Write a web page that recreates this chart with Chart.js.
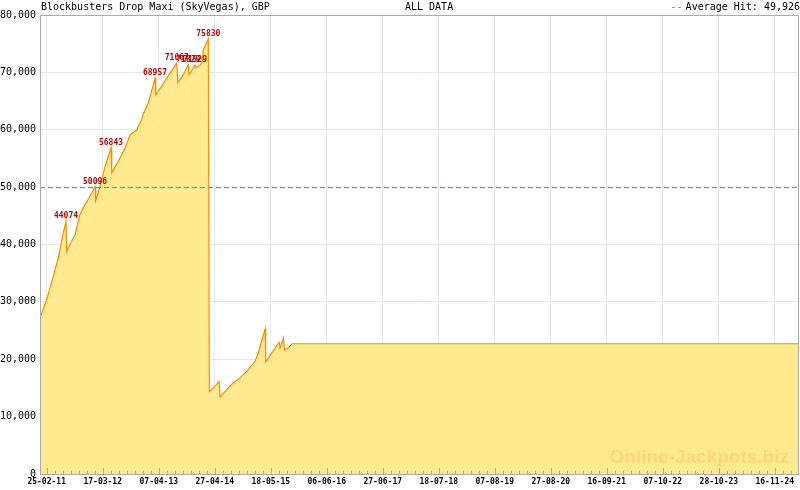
<!DOCTYPE html>
<html>
<head>
<meta charset="utf-8">
<script src="https://cdn.jsdelivr.net/npm/chart.js@4"></script>
<style>
  html, body { margin: 0; padding: 0; background: #fff; }
  #chart { display: block; }
</style>
</head>
<body>
<canvas id="chart" width="800" height="490"></canvas>
<script>
// jackpot level over time
const dates = [
  "2011-01-10", "2011-02-25", "2011-04-11", "2011-05-16", "2011-06-19", "2011-07-08", "2011-07-13",
  "2011-08-04", "2011-09-08", "2011-10-12", "2011-11-04", "2011-12-20", "2012-01-24", "2012-01-28",
  "2012-02-27", "2012-04-02", "2012-05-13", "2012-05-18", "2012-07-02", "2012-08-18", "2012-09-21",
  "2012-11-06", "2012-12-10", "2012-12-21", "2013-01-25", "2013-03-12", "2013-03-17", "2013-04-27",
  "2013-06-01", "2013-08-09", "2013-08-16", "2013-09-23", "2013-10-27", "2013-11-01", "2013-12-01",
  "2013-12-12", "2013-12-19", "2014-01-16", "2014-01-28", "2014-02-08", "2014-03-14", "2014-03-21",
  "2014-04-18", "2014-05-27", "2014-06-03", "2014-07-19", "2014-09-02", "2014-10-18", "2014-12-04",
  "2015-01-30", "2015-02-21", "2015-04-09", "2015-04-13", "2015-05-25", "2015-07-14", "2015-07-21",
  "2015-08-13", "2015-08-20", "2015-09-16", "2015-10-10", "2025-05-02"
];
const values = [
  27200, 30400, 34400, 37700, 42000, 44074, 38800,
  40000, 41700, 45200, 46400, 48400, 50096, 47600,
  50100, 53600, 56843, 52500, 54500, 56800, 59100,
  60000, 61800, 62750, 64700, 68957, 66100, 67600,
  69000, 71600, 68200, 69600, 71300, 69600, 70800,
  71300, 70800, 71300, 71600, 74000, 75830, 14400,
  15000, 16100, 13450, 14700, 15900, 16750, 17900,
  19650, 21100, 25300, 19500, 21100, 22960, 22000,
  23700, 21600, 22000, 22700, 22700
];

const tickLabels = ["25-02-11", "17-03-12", "07-04-13", "27-04-14", "18-05-15", "06-06-16", "27-06-17",
  "18-07-18", "07-08-19", "27-08-20", "16-09-21", "07-10-22", "28-10-23", "16-11-24"];

const peakDates = ["2011-07-08", "2012-01-24", "2012-05-13", "2013-03-12", "2013-08-09", "2013-10-27", "2013-12-12", "2014-03-14"];
const peakLabels = ["44074", "50096", "56843", "68957", "71067", "71829", "71529", "75830"];

const avgHit = 49926;
const yMax = 80000;
const yStep = 10000;

const MONO = "'DejaVu Sans Mono', 'Liberation Mono', monospace";

function toDay(s) {
  return Date.parse(s + "T00:00:00Z") / 864e5;
}
function labelToDay(l) {
  const [d, m, y] = l.split("-");
  return toDay(`20${y}-${m}-${d}`);
}

const points = dates.map((d, i) => ({ x: toDay(d), y: values[i] }));
const xMin = points[0].x;
const xMax = points[points.length - 1].x;
const majorDays = tickLabels.map(labelToDay);

// header, ticks, frame, peak labels, watermark
const decorations = {
  id: "decorations",
  afterDatasetsDraw(chart) {
    const { ctx, chartArea: a, scales } = chart;
    const xs = scales.x, ys = scales.y;
    ctx.save();

    // watermark
    ctx.font = "bold 19px 'Liberation Sans', Arial, sans-serif";
    ctx.fillStyle = "#ffd47c";
    ctx.textAlign = "right";
    ctx.textBaseline = "middle";
    ctx.fillText("Online-Jackpots.biz", a.right - 10, a.bottom - 16);

    // peak labels
    ctx.font = `bold 8px ${MONO}`;
    ctx.fillStyle = "#cc0000";
    ctx.textAlign = "center";
    ctx.textBaseline = "bottom";
    peakDates.forEach((d, i) => {
      const p = points.find(pt => pt.x === toDay(d));
      if (!p) return;
      ctx.fillText(peakLabels[i], xs.getPixelForValue(p.x), ys.getPixelForValue(p.y) - 1);
    });

    // tick marks pointing into the plot
    ctx.strokeStyle = "#aaaaaa";
    ctx.lineWidth = 1;
    const step = (majorDays[1] - majorDays[0]) / 7;
    ctx.beginPath();
    for (let v = majorDays[0]; v >= xMin; v -= step) {
      const px = Math.round(xs.getPixelForValue(v)) + 0.5;
      ctx.moveTo(px, a.bottom); ctx.lineTo(px, a.bottom - 3);
    }
    for (let v = majorDays[0]; v <= xMax; v += step) {
      const px = Math.round(xs.getPixelForValue(v)) + 0.5;
      ctx.moveTo(px, a.bottom); ctx.lineTo(px, a.bottom - 3);
    }
    majorDays.forEach(v => {
      const px = Math.round(xs.getPixelForValue(v)) + 0.5;
      ctx.moveTo(px, a.bottom); ctx.lineTo(px, a.bottom - 6);
    });
    ctx.stroke();

    // frame
    ctx.strokeRect(Math.round(a.left) + 0.5, Math.round(a.top) + 0.5,
      Math.round(a.right - a.left) - 1, Math.round(a.bottom - a.top));

    // header line
    ctx.font = `10px ${MONO}`;
    ctx.fillStyle = "#000";
    ctx.textBaseline = "middle";
    ctx.textAlign = "left";
    ctx.fillText("Blockbusters Drop Maxi (SkyVegas), GBP", 41, 7);
    ctx.fillText("ALL DATA", 405, 7);
    ctx.textAlign = "right";
    const avgText = "Average Hit: " + avgHit.toLocaleString("en-US");
    ctx.fillText(avgText, 800, 7);
    const w = ctx.measureText(avgText).width;
    ctx.fillStyle = "#3399cc";
    ctx.fillText("--", 800 - w - 3, 7);

    ctx.restore();
  }
};

new Chart(document.getElementById("chart"), {
  type: "line",
  data: {
    datasets: [
      {
        data: [{ x: xMin, y: avgHit }, { x: xMax, y: avgHit }],
        borderColor: "#3d9ad1",
        borderWidth: 1,
        borderDash: [5, 3],
        pointRadius: 0,
        fill: false
      },
      {
        data: points,
        borderColor: "#ff8c00",
        borderWidth: 1.2,
        backgroundColor: "#ffea8f",
        pointRadius: 0,
        tension: 0,
        fill: "origin"
      }
    ]
  },
  options: {
    responsive: false,
    animation: false,
    devicePixelRatio: 1,
    layout: { padding: { top: 15, right: 1, left: 0, bottom: 0 } },
    plugins: {
      legend: { display: false },
      tooltip: { enabled: false }
    },
    scales: {
      x: {
        type: "linear",
        min: xMin,
        max: xMax,
        afterBuildTicks: scale => { scale.ticks = majorDays.map(v => ({ value: v })); },
        afterFit: scale => { scale.height = 16; },
        border: { display: false },
        grid: { color: "#e8e8e8", drawTicks: false },
        ticks: {
          padding: 3,
          maxRotation: 0,
          autoSkip: false,
          color: "#000",
          font: { family: MONO, size: 8, weight: "bold" },
          callback: (v, i) => tickLabels[i]
        }
      },
      y: {
        min: 0,
        max: yMax,
        afterFit: scale => { scale.width = 40; },
        border: { display: false },
        grid: { color: "#e8e8e8", drawTicks: false },
        ticks: {
          stepSize: yStep,
          padding: 4,
          color: "#000",
          font: { family: MONO, size: 10 },
          callback: v => v.toLocaleString("en-US")
        }
      }
    }
  },
  plugins: [decorations]
});
</script>
</body>
</html>
